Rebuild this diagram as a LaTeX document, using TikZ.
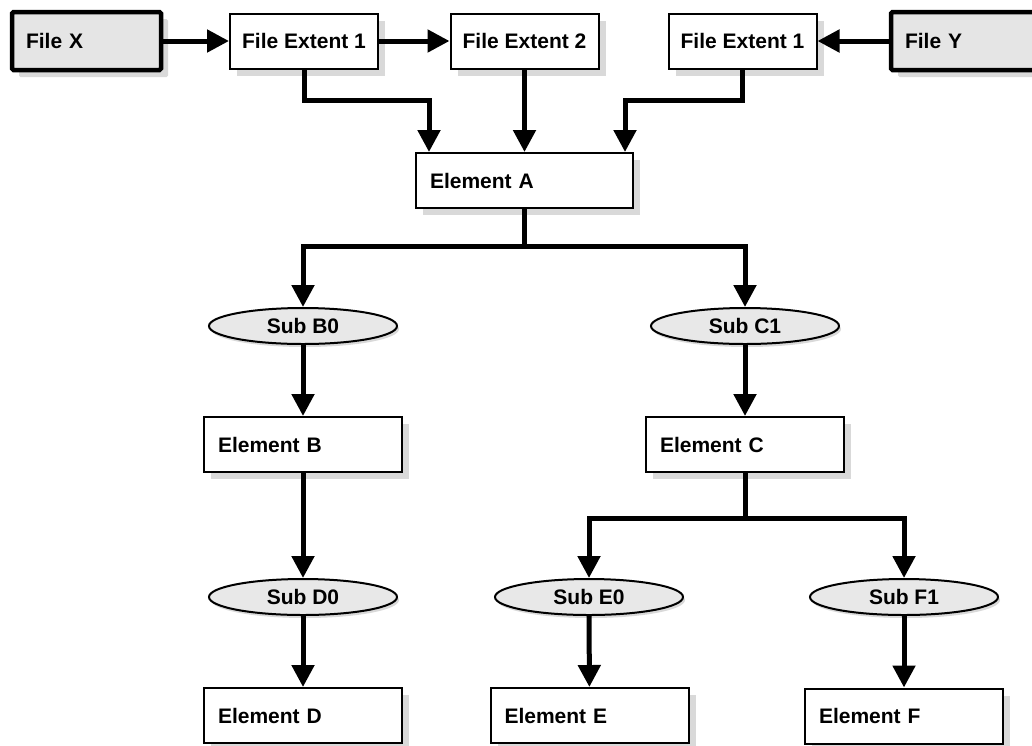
\documentclass[tikz,border=0pt]{standalone}
\usepackage{fontspec}
\setmainfont{Liberation Sans}
\usetikzlibrary{arrows.meta,shapes.geometric,shadows,calc}
\begin{document}
\begin{tikzpicture}[x=1pt,y=-1pt,
 font=\fontsize{21}{25}\selectfont\bfseries,
 shad/.style={drop shadow={shadow xshift=7pt,shadow yshift=-7pt,fill=black!15,opacity=1}},
 filebox/.style={draw,line width=4.5pt,rounded corners=1.5pt,fill=black!10,minimum height=58pt,text width=121pt,inner xsep=14pt,inner ysep=0pt,align=left,shad},
 extbox/.style={draw,line width=2pt,fill=white,minimum width=148pt,minimum height=55pt,inner sep=0pt,shad},
 elembox/.style={draw,line width=2pt,fill=white,minimum height=55pt,inner xsep=14pt,inner ysep=0pt,align=left,shad},
 subell/.style={ellipse,draw,line width=2pt,fill=black!9,minimum width=188pt,minimum height=36pt,inner sep=0pt,drop shadow={shadow xshift=2pt,shadow yshift=-3pt,fill=black!15,opacity=1}},
 arr/.style={line width=5pt,-{Triangle[length=22pt 0,width=22pt 0]}}
]
\useasboundingbox (0,0) rectangle (1032,745);

\node[filebox] (fx) at (86.5,41) {File X};
\node[extbox] (fe1) at (304,41) {File Extent 1};
\node[extbox] (fe2) at (524.5,41) {File Extent 2};
\node[extbox] (fe3) at (742.5,41) {File Extent 1};
\node[filebox] (fy) at (965.5,41) {File Y};
\node[elembox,text width=189pt] (A) at (524.5,180.5) {Element A};
\node[subell] (b0) at (303,326) {Sub B0};
\node[subell] (c1) at (745,326) {Sub C1};
\node[elembox,text width=170pt] (B) at (303,444.5) {Element B};
\node[elembox,text width=170pt] (C) at (745,444.5) {Element C};
\node[subell] (d0) at (303,597) {Sub D0};
\node[subell] (e0) at (589,597) {Sub E0};
\node[subell] (f1) at (904,597) {Sub F1};
\node[elembox,text width=170pt] (D) at (303,715.5) {Element D};
\node[elembox,text width=170pt] (E) at (589.5,715.5) {Element E};
\node[elembox,text width=170pt] (F) at (904,716) {Element F};

\draw[arr] (fx) -- (fe1);
\draw[arr] (fe1) -- (fe2);
\draw[arr] (fy) -- (fe3);
\draw[arr] (fe1.south) -- ++(0,31) -| ($(A.north west)+(14,0)$);
\draw[arr] (fe2.south) -- (A.north);
\draw[arr] (fe3.south) -- ++(0,31) -| ($(A.north east)+(-9,0)$);
\draw[arr] (A.south) -- ++(0,37) -| (b0.north);
\draw[arr] (A.south) -- ++(0,37) -| (c1.north);
\draw[arr] (b0) -- (B);
\draw[arr] (c1) -- (C);
\draw[arr] (B) -- (d0);
\draw[arr] (C.south) -- ++(0,45) -| (e0.north);
\draw[arr] (C.south) -- ++(0,45) -| (f1.north);
\draw[arr] (d0) -- (D);
\draw[arr] (e0) -- (E);
\draw[arr] (f1) -- (F);
\end{tikzpicture}
\end{document}
